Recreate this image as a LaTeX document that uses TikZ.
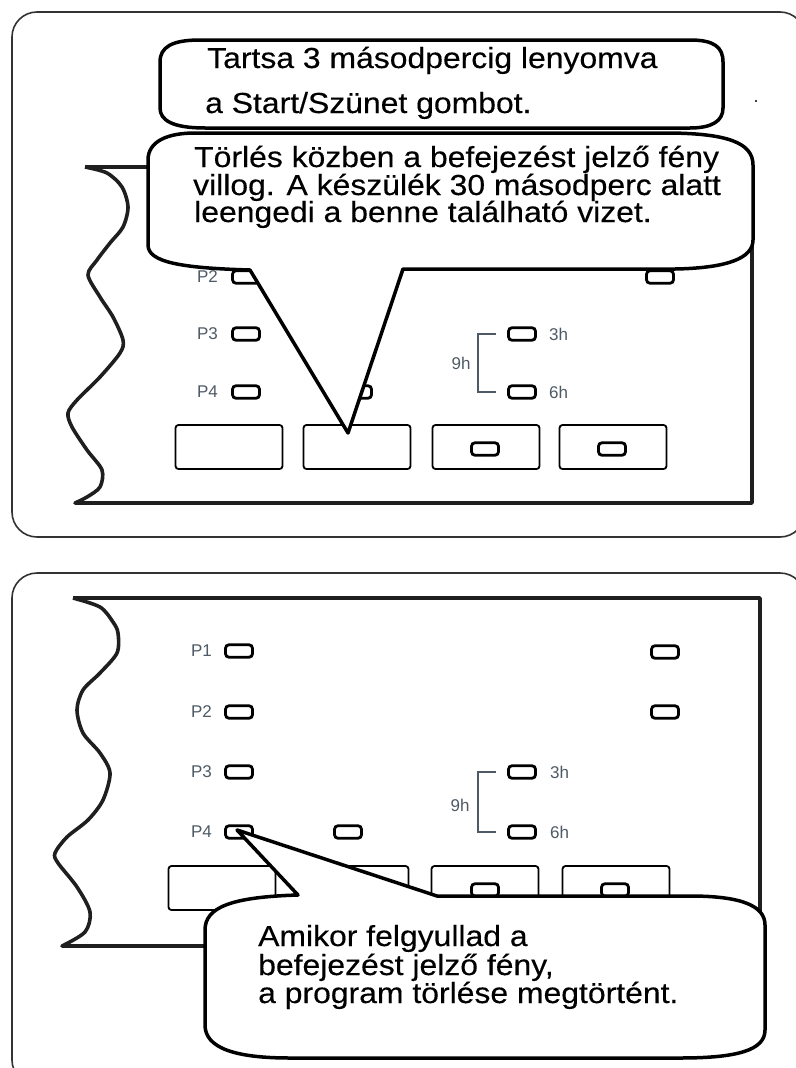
\documentclass[tikz,border=0pt]{standalone}
\usepackage{fontspec}
\setmainfont{Liberation Sans}
\newfontfamily\calloutfont{Liberation Sans}[FakeStretch=1.1,FakeBold=0.3]
\usetikzlibrary{positioning}
\definecolor{labelgray}{HTML}{4E5A66}
\definecolor{edgegray}{HTML}{333333}

\begin{document}
\begin{tikzpicture}[x=1pt,y=-1pt,
  panel/.style={draw=edgegray,line width=1.6pt,rounded corners=25pt},
  device/.style={draw=black!88,line width=3.6pt,line join=round},
  led/.style={rectangle,draw,line width=2.8pt,rounded corners=3.5pt,
              minimum width=27pt,minimum height=12.5pt,inner sep=0pt},
  btn/.style={rectangle,draw,line width=1.8pt,rounded corners=3pt,
              minimum width=107pt,minimum height=44pt,inner sep=0pt},
  lbl/.style={text=labelgray,font=\fontsize{17}{17}\selectfont,inner sep=0pt},
  bracket/.style={draw=labelgray,line width=1.3pt},
  callout/.style={draw,fill=white,line width=3.5pt,line join=round},
  msg/.style={font=\calloutfont\fontsize{29}{28}\selectfont,inner sep=0pt,anchor=base west}]
\useasboundingbox (0,0) rectangle (795,1068);

% upper panel
\draw[panel] (12,12) rectangle (805,537);
\draw[device] (85,167) -- (752,167) -- (752,503) -- (75,503)
  -- plot[smooth,tension=.5] coordinates {(75,503) (87,497) (100,487) (102,470) (87,450)
     (72,427) (68,413) (77,400) (100,377) (120,353) (123,340) (113,317) (100,297)
     (88,275) (97,260) (110,243) (123,227) (128,207) (122,187) (107,173) (85,167)};
\node[led] (tp2) at (246,277) {};
\node[led] (tp3) at (246,334) {};
\node[led] (tp4) at (246,392) {};
\node[led] (tmid) at (358,392) {};
\node[led] (tright) at (660,277) {};
\node[led] (t3h) at (522,334) {};
\node[led] (t6h) at (522,392) {};
\node[lbl,left=13pt of tp2] (tp2l) {P2};
\node[lbl,left=13pt of tp3] (tp3l) {P3};
\node[lbl,left=13pt of tp4] (tp4l) {P4};
\node[lbl,right=12pt of t3h] (t3hl) {3h};
\node[lbl,right=12pt of t6h] (t6hl) {6h};
\draw[bracket] ([xshift=-11pt]t3h.west) -- ++(-18,0) |- ([xshift=-11pt]t6h.west);
\node[lbl] (t9h) at (461,363) {9h};
\node[btn] (tb1) at (229,447) {};
\node[btn] (tb2) at (357,447) {};
\node[btn] (tb3) at (486,447) {};
\node[btn] (tb4) at (613,447) {};
\node[led] (tb3led) at (485,449) {};
\node[led] (tb4led) at (612,449) {};
\fill (756,101) circle (1.2);

\draw[callout] (195,133) -- (665,133) .. controls (728,133) and (753,143) .. (753,165)
  -- (753,240) .. controls (753,258) and (728,268) .. (675,269) -- (403,269) -- (348,433)
  -- (250,270) .. controls (180,268) and (148,262) .. (148,245) -- (148,160)
  .. controls (148,141) and (168,133) .. (195,133) -- cycle;
\draw[callout] (200,40) -- (690,40) .. controls (714,40) and (723,47) .. (723,62)
  -- (723,108) .. controls (723,121) and (712,128) .. (690,128) -- (205,128)
  .. controls (172,128) and (160,120) .. (160,108) -- (160,62)
  .. controls (160,47) and (172,40) .. (200,40) -- cycle;
\node[msg] (hold1) at (207,68) {Tartsa 3 másodpercig lenyomva};
\node[msg] (hold2) at (205,113) {a Start/Szünet gombot.};
\node[msg] (wipe1) at (194,167) {Törlés közben a befejezést jelző fény};
\node[msg] (wipe2) at (193,195) {villog. A készülék 30 másodperc alatt};
\node[msg] (wipe3) at (194,222) {leengedi a benne található vizet.};

% lower panel
\draw[panel] (12,573) rectangle (805,1085);
\draw[device] (73,598) -- (760,598) -- (760,946) -- (62,946)
  -- plot[smooth,tension=.5] coordinates {(62,946) (85,932) (90,912) (77,887) (58,863)
     (55,853) (67,837) (88,820) (103,800) (110,773) (100,753) (83,733) (77,710)
     (83,690) (100,673) (117,653) (118,633) (113,622) (100,607) (73,598)};
\node[led] (bp1) at (239,651) {};
\node[led] (bp2) at (239,712) {};
\node[led] (bp3) at (239,772) {};
\node[led] (bp4) at (239,832) {};
\node[led] (bmid) at (348,832) {};
\node[led] (bright1) at (665,652) {};
\node[led] (bright2) at (665,712) {};
\node[led] (b3h) at (522,772) {};
\node[led] (b6h) at (522,832) {};
\node[lbl,left=12pt of bp1] (bp1l) {P1};
\node[lbl,left=12pt of bp2] (bp2l) {P2};
\node[lbl,left=12pt of bp3] (bp3l) {P3};
\node[lbl,left=12pt of bp4] (bp4l) {P4};
\node[lbl,right=13pt of b3h] (b3hl) {3h};
\node[lbl,right=13pt of b6h] (b6hl) {6h};
\draw[bracket] ([xshift=-11pt]b3h.west) -- ++(-18,0) |- ([xshift=-11pt]b6h.west);
\node[lbl] (b9h) at (460,805) {9h};
\node[btn] (bb1) at (222,888) {};
\node[btn] (bb2) at (355,888) {};
\node[btn] (bb3) at (485,888) {};
\node[btn] (bb4) at (616,888) {};
\node[led] (bb3led) at (485,890) {};
\node[led] (bb4led) at (615,890) {};

\draw[callout] (298,895) .. controls (232,897) and (205,907) .. (205,930) -- (205,1025)
  .. controls (205,1048) and (235,1058) .. (290,1058) -- (680,1058)
  .. controls (738,1058) and (765,1050) .. (765,1030) -- (765,925)
  .. controls (765,906) and (742,896) .. (690,896) -- (437,896) -- (237,830) -- cycle;
\node[msg] (done1) at (258,946) {Amikor felgyullad a};
\node[msg] (done2) at (258,975) {befejezést jelző fény,};
\node[msg] (done3) at (258,1003) {a program törlése megtörtént.};
\end{tikzpicture}
\end{document}
